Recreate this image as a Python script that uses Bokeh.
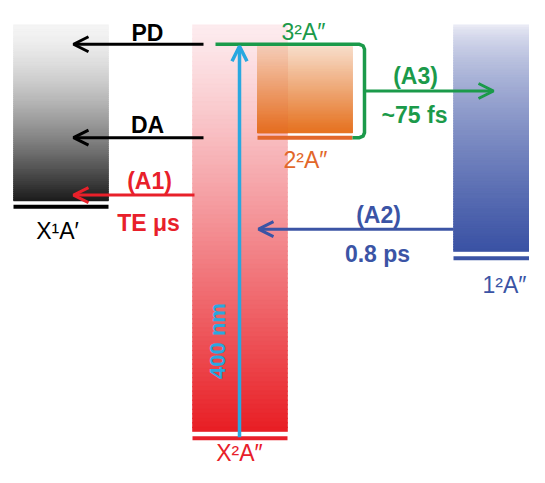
from bokeh.plotting import figure
from bokeh.models import Range1d, Arrow, OpenHead, ColumnDataSource
from bokeh.core.properties import value
from bokeh.embed import file_html
from bokeh.resources import INLINE

FONT = "Liberation Sans"

# ---- data: states (columns of the diagram) ----
state_labels = ["X¹A′", "X²A″", "2²A″", "3²A″", "1²A″"]
state_colors = ["#000000", "#E8202A", "#E2672A", "#1B9A4A", "#3B54A5"]
state_level = [212, 450, 141, 45, 265]          # level position (schematic, top = high energy)
state_left = [13, 192, 257, 215, 453]
state_right = [108, 287, 352, 358, 545]

# gradient bands (manifolds above each state)
band_names = ["X1A'", "X2A''", "22A''", "12A''"]
band_left = [13, 192, 257, 453]
band_right = [108, 287, 352, 545]
band_top = [25, 25, 47, 25]
band_bottom = [206, 443, 136, 258]
band_ctop = [(244, 244, 244), (253, 236, 239), (248, 222, 204), (240, 240, 248)]
band_cbot = [(28, 28, 28), (232, 30, 36), (230, 114, 32), (58, 82, 164)]
band_gamma = [1.5, 1.15, 1.0, 0.65]

# ---- data: processes (arrows) ----
proc_top = ["PD", "DA", "(A1)", "(A2)", "(A3)"]
proc_bottom = ["", "", "TE μs", "0.8 ps", "~75 fs"]
proc_colors = ["#000000", "#000000", "#E8202A", "#3B54A5", "#1B9A4A"]
proc_y = [45, 141, 200, 235, 93]
proc_start = [203, 203, 194, 453, 364]
proc_end = [73, 73, 73, 258, 493]

p = figure(width=529, height=467, output_backend="svg", toolbar_location=None,
           x_range=Range1d(0, 529), y_range=Range1d(480, 0), min_border=0)
p.axis.visible = False
p.grid.visible = False
p.outline_line_color = None
p.background_fill_color = "white"
p.border_fill_color = "white"


def lerp(c0, c1, t):
    return tuple(a + (b - a) * t for a, b in zip(c0, c1))


def hexc(c):
    return "#%02x%02x%02x" % tuple(int(round(max(0, min(255, v)))) for v in c)


N = 90


def band(left, right, top, bot, c0, c1, gamma, tint=None, tint_amt=0.0):
    h = (bot - top) / N
    tops = [top + k * h for k in range(N)]
    bots = [min(bot, top + (k + 1) * h + 0.8) for k in range(N)]
    cols = []
    for k in range(N):
        c = lerp(c0, c1, ((k + 0.5) / N) ** gamma)
        if tint is not None:
            c = lerp(c, tint, tint_amt)
        cols.append(hexc(c))
    src = ColumnDataSource(dict(top=tops, bottom=bots, c=cols))
    p.quad(left=left, right=right, top="top", bottom="bottom",
           fill_color="c", line_color="c", line_width=0.6, source=src)


for i in range(len(band_names)):
    band(band_left[i], band_right[i], band_top[i], band_bottom[i],
         band_ctop[i], band_cbot[i], band_gamma[i])
# part of the 2²A″ band lying over the X²A″ band looks deeper
band(band_left[2], band_right[1], band_top[2], band_bottom[2],
     band_ctop[2], band_cbot[2], band_gamma[2], tint=(225, 80, 40), tint_amt=0.12)

# level lines
for i in range(len(state_labels)):
    if state_labels[i] == "3²A″":
        continue
    p.line([state_left[i], state_right[i]], [state_level[i]] * 2,
           line_color=state_colors[i], line_width=4)

# green bracket (3²A″ level down to the 2²A″ level, feeding A3)
g = state_colors[3]
xl, xr = state_left[3], 364
y0, y1 = state_level[3], state_level[2]
r = 5
p.line([xl, xr - r, xr - r * 0.3, xr, xr, xr - r * 0.3, xr - r, state_right[2]],
       [y0, y0, y0 + r * 0.3, y0 + r, y1 - r, y1 - r * 0.3, y1, y1],
       line_color=g, line_width=3.5, line_join="round")

# excitation arrow 400 nm
p.add_layout(Arrow(end=OpenHead(size=15, line_width=3.5, line_color="#29A8E0"),
                   x_start=239, y_start=state_level[1] - 1, x_end=239, y_end=state_level[3] + 2,
                   line_color="#29A8E0", line_width=3.5))
p.text(x=[217], y=[350], text=["400 nm"], angle=1.5708, text_color="#29A8E0",
       text_font=value(FONT), text_font_style="bold", text_font_size="22px",
       text_align="center", text_baseline="middle")

# process arrows
for i in range(len(proc_top)):
    p.add_layout(Arrow(end=OpenHead(size=15, line_width=3, line_color=proc_colors[i]),
                       x_start=proc_start[i], y_start=proc_y[i], x_end=proc_end[i], y_end=proc_y[i],
                       line_color=proc_colors[i], line_width=3))

# process labels
top_x = [147, 147, 149, 378, 415]
top_y = [33, 128, 186, 220, 78]
bot_x = [0, 0, 148, 377, 414]
bot_y = [0, 0, 229, 261, 118]
for i in range(len(proc_top)):
    p.text(x=[top_x[i]], y=[top_y[i]], text=[proc_top[i]], text_color=proc_colors[i],
           text_font=value(FONT), text_font_style="bold", text_font_size="23px",
           text_align="center", text_baseline="middle")
    if proc_bottom[i]:
        p.text(x=[bot_x[i]], y=[bot_y[i]], text=[proc_bottom[i]], text_color=proc_colors[i],
               text_font=value(FONT), text_font_style="bold", text_font_size="23px",
               text_align="center", text_baseline="middle")

# state labels
lab_x = [57, 239, 305, 303, 504]
lab_y = [237, 465, 164, 32, 292]
for i in range(len(state_labels)):
    p.text(x=[lab_x[i]], y=[lab_y[i]], text=[state_labels[i]], text_color=state_colors[i],
           text_font=value(FONT), text_font_size="23px",
           text_align="center", text_baseline="middle")

open("out.html", "w").write(file_html(p, INLINE))
